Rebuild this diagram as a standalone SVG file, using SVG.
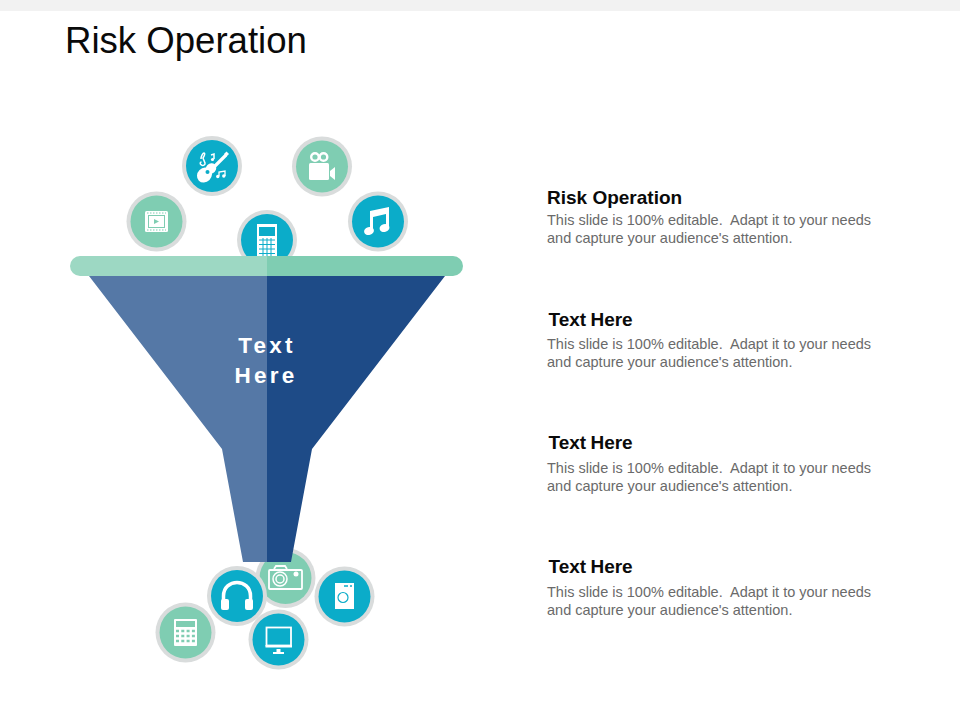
<svg xmlns="http://www.w3.org/2000/svg" width="960" height="720" viewBox="0 0 960 720">
<style>
text{font-family:"Liberation Sans",Arial,sans-serif}
.ring{fill:#d9dcdc}
.g{fill:#7fcdb2}
.b{fill:#0bacc9}
.w{fill:#fff}
.wl{fill:none;stroke:#fff}
.h{font-size:19px;font-weight:700;fill:#0a0a0a}
.p{font-size:14.5px;fill:#6a6a6a}
.f{font-size:22.500px;font-weight:700;fill:#fff;letter-spacing:3.200px}
</style>
<rect width="960" height="720" fill="#fff"/>
<rect width="960" height="11" fill="#f2f2f2"/>
<text x="65" y="53" font-size="36.600" fill="#0a0a0a" id="title">Risk Operation</text>

<g id="node-calc-top">
<circle cx="267" cy="240" r="30" class="ring"/><circle cx="267" cy="240" r="26" class="b"/>
<rect x="257" y="224" width="20" height="32" class="w"/>
<rect x="259" y="227" width="16" height="9" class="b"/>
<path d="M259 240h16M259 244.500h16M259 249h16M259 253.500h16M263 238v18M267 238v18M271 238v18" style="fill:none;stroke:#0bacc9;stroke-width:1"/>
</g>
<g id="node-video">
<circle cx="156.500" cy="221.500" r="30" class="ring"/><circle cx="156.500" cy="221.500" r="26" class="g"/>
<rect x="145" y="211" width="23" height="21" rx="1.500" class="w"/>
<rect x="148" y="215" width="17" height="13" style="fill:#7fcdb2"/>
<rect x="149" y="216" width="15" height="11" class="w"/>
<path d="M147 213h19M147 230h19" style="fill:none;stroke:#7fcdb2;stroke-width:1;stroke-dasharray:1.500 1.500"/>
<path d="M154 219l5 2.500-5 2.500z" style="fill:#7fcdb2"/>
</g>
<g id="node-guitar">
<circle cx="212" cy="166" r="30" class="ring"/><circle cx="212" cy="166" r="26" class="b"/>
<path d="M213 168L226 155" class="wl" stroke-width="3.200"/>
<path d="M224 154l2.500-2.500 2.500 2.500-2.500 2.500z" class="w"/>
<ellipse cx="204.500" cy="175" rx="8" ry="7" transform="rotate(-45 204.500 175)" class="w"/>
<ellipse cx="211" cy="168.500" rx="5.500" ry="5" transform="rotate(-45 211 168.500)" class="w"/>
<circle cx="207.500" cy="172" r="2" class="b"/>
<path d="M201 159c0-3 2-6 3-6s1 2-1 5l2 5c.5 2-2 3-3.500 2-2-1-1.500-3 0-3" class="wl" stroke-width="1.500"/>
<path d="M211 155l3-1v5" class="wl" stroke-width="1.500"/><circle cx="212.500" cy="159.500" r="1.600" class="w"/>
<path d="M219 176v-4l6-1v5" class="wl" stroke-width="1.300"/><circle cx="217.800" cy="176.500" r="1.700" class="w"/><circle cx="223.800" cy="176" r="1.700" class="w"/>
</g>
<g id="node-movie-camera">
<circle cx="322" cy="166.500" r="30" class="ring"/><circle cx="322" cy="166.500" r="26" class="g"/>
<circle cx="315" cy="157" r="3.800" class="wl" stroke-width="2.400"/><circle cx="323.500" cy="157" r="3.800" class="wl" stroke-width="2.400"/>
<rect x="309" y="163" width="20" height="17" rx="1.500" class="w"/>
<path d="M330 171l5-4v13l-5-4z" class="w"/>
</g>
<g id="node-music">
<circle cx="378" cy="221.500" r="30" class="ring"/><circle cx="378" cy="221.500" r="26" class="b"/>
<path d="M370 211l19-4v20h-3v-13l-13 3v13.500h-3z" class="w"/>
<ellipse cx="369" cy="231" rx="5" ry="4" transform="rotate(-15 369 231)" class="w"/>
<ellipse cx="384.500" cy="228" rx="5" ry="4" transform="rotate(-15 384.500 228)" class="w"/>
</g>

<g id="node-camera">
<circle cx="285.500" cy="578" r="30" class="ring"/><circle cx="285.500" cy="578" r="26" class="g"/>
<rect x="269" y="570" width="33" height="19" rx="1" class="wl" stroke-width="1.800"/>
<path d="M274 569l2-3h9l2 3" class="wl" stroke-width="1.800"/>
<circle cx="280" cy="579" r="7" class="wl" stroke-width="1.500"/><circle cx="280" cy="579" r="4" class="wl" stroke-width="1.500"/>
<circle cx="296" cy="574" r="2.500" class="w"/>
</g>
<g id="funnel">
<path d="M89 276H267V562H243L222 449Z" fill="#5578a6"/>
<path d="M445 276H267V562H291L312 449Z" fill="#1e4b87"/>
<path d="M80 256H267V276H80a10 10 0 0 1 0-20Z" fill="#9dd8c3"/>
<path d="M453 256H267V276H453a10 10 0 0 0 0-20Z" fill="#7fcdb2"/>
<text x="267" y="353" text-anchor="middle" class="f">Text</text>
<text x="266" y="383" text-anchor="middle" class="f">Here</text>
</g>
<g id="node-headphones">
<circle cx="237" cy="596" r="30" class="ring"/><circle cx="237" cy="596" r="26" class="b"/>
<path d="M223.500 601v-5c0-18 27-18 27 0v5" class="wl" stroke-width="3.500"/>
<rect x="221" y="599" width="8" height="11" rx="2" class="w"/><rect x="245" y="599" width="8" height="11" rx="2" class="w"/>
</g>
<g id="node-washer">
<circle cx="344.500" cy="596.500" r="30" class="ring"/><circle cx="344.500" cy="596.500" r="26" class="b"/>
<rect x="335" y="583" width="19" height="26" class="w"/>
<circle cx="343" cy="597.500" r="5" style="fill:none;stroke:#0bacc9;stroke-width:1.200"/>
<path d="M344 586h4M350 586h2" style="fill:none;stroke:#0bacc9;stroke-width:1.300"/>
</g>
<g id="node-calculator">
<circle cx="185.500" cy="632.500" r="30" class="ring"/><circle cx="185.500" cy="632.500" r="26" class="g"/>
<rect x="174" y="619" width="23" height="27" rx="1" class="w"/>
<rect x="176" y="621" width="19" height="6" style="fill:#7fcdb2"/>
<path d="M176 631h19M176 636h19M176 641h19" style="fill:none;stroke:#7fcdb2;stroke-width:2.500;stroke-dasharray:3 2.300"/>
</g>
<g id="node-monitor">
<circle cx="278.500" cy="639.500" r="30" class="ring"/><circle cx="278.500" cy="639.500" r="26" class="b"/>
<rect x="266.500" y="627.500" width="24.500" height="18" class="wl" stroke-width="1.800"/>
<rect x="265.500" y="645" width="26.500" height="2.500" class="w"/>
<rect x="276.500" y="649" width="4" height="3" class="w"/>
<rect x="273" y="652" width="11" height="2" class="w"/>
</g>

<g id="text-1">
<text x="547" y="204" class="h">Risk Operation</text>
<text x="547" y="225" class="p" xml:space="preserve">This slide is 100% editable.  Adapt it to your needs</text>
<text x="547" y="243" class="p">and capture your audience's attention.</text>
</g>
<g id="text-2">
<text x="548.500" y="326" class="h" word-spacing="-1">Text Here</text>
<text x="547" y="349" class="p" xml:space="preserve">This slide is 100% editable.  Adapt it to your needs</text>
<text x="547" y="367" class="p">and capture your audience's attention.</text>
</g>
<g id="text-3">
<text x="548.500" y="449" class="h" word-spacing="-1">Text Here</text>
<text x="547" y="473" class="p" xml:space="preserve">This slide is 100% editable.  Adapt it to your needs</text>
<text x="547" y="491" class="p">and capture your audience's attention.</text>
</g>
<g id="text-4">
<text x="548.500" y="573" class="h" word-spacing="-1">Text Here</text>
<text x="547" y="597" class="p" xml:space="preserve">This slide is 100% editable.  Adapt it to your needs</text>
<text x="547" y="615" class="p">and capture your audience's attention.</text>
</g>
</svg>
